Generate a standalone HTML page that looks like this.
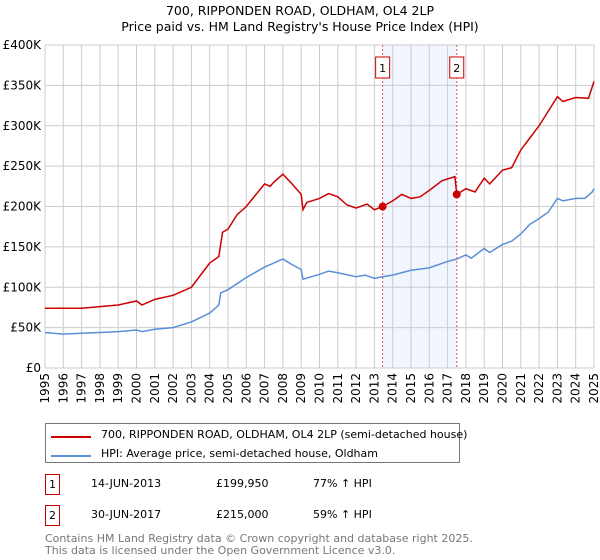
<!DOCTYPE html>
<html><head><meta charset="utf-8"><style>
body{margin:0;width:600px;height:560px;background:#fff;font-family:"DejaVu Sans","Liberation Sans",sans-serif;overflow:hidden;position:relative}
.t{position:absolute;white-space:nowrap;color:#000}
</style></head><body>
<div class="t" style="left:0;width:600px;text-align:center;top:3px;font-size:12.5px;line-height:16px">700, RIPPONDEN ROAD, OLDHAM, OL4 2LP<br>Price paid vs. HM Land Registry's House Price Index (HPI)</div>
<svg id="c" width="600" height="420" style="position:absolute;left:0;top:0" font-family="DejaVu Sans, Liberation Sans, sans-serif"></svg>
<div style="position:absolute;left:45px;top:423px;width:413px;height:38px;border:1px solid #777"></div>
<div style="position:absolute;left:51px;top:436px;width:40px;height:2px;background:#cc0000"></div>
<div class="t" style="left:101px;top:428px;font-size:11px">700, RIPPONDEN ROAD, OLDHAM, OL4 2LP (semi-detached house)</div>
<div style="position:absolute;left:51px;top:455px;width:40px;height:2px;background:#5b8fd6"></div>
<div class="t" style="left:101px;top:447px;font-size:11px">HPI: Average price, semi-detached house, Oldham</div>
<div class="t" style="left:45px;top:474px;width:13px;height:19px;border:1px solid #cc0000;font-size:11px;text-align:center;line-height:19px">1</div>
<div class="t" style="left:91px;top:477px;font-size:11px">14-JUN-2013</div>
<div class="t" style="left:216px;top:477px;font-size:11px">£199,950</div>
<div class="t" style="left:313px;top:477px;font-size:11px">77% ↑ HPI</div>
<div class="t" style="left:45px;top:505px;width:13px;height:19px;border:1px solid #cc0000;font-size:11px;text-align:center;line-height:19px">2</div>
<div class="t" style="left:91px;top:508px;font-size:11px">30-JUN-2017</div>
<div class="t" style="left:216px;top:508px;font-size:11px">£215,000</div>
<div class="t" style="left:313px;top:508px;font-size:11px">59% ↑ HPI</div>
<div class="t" style="left:45px;top:533px;font-size:11px;line-height:12px;color:#777">Contains HM Land Registry data © Crown copyright and database right 2025.<br>This data is licensed under the Open Government Licence v3.0.</div>
<script>
const hpiX=[1995,1996,1997,1998,1999,2000,2000.3,2001,2002,2003,2004,2004.5,2004.6,2005,2006,2007,2007.5,2008,2008.5,2009,2009.1,2010,2010.5,2011,2012,2012.5,2013,2013.45,2014,2015,2016,2017,2017.5,2018,2018.3,2019,2019.3,2020,2020.5,2021,2021.5,2022,2022.5,2023,2023.3,2024,2024.5,2024.9,2025];
const hpiY=[44,42,43,44,45,47,45,48,50,57,68,78,93,97,112,125,130,135,128,122,110,116,120,118,113,115,111,113,115,121,124,132,135,140,136,148,143,153,157,166,178,185,193,210,207,210,210,218,222];
const redX=[1995,1997,1999,2000,2000.3,2001,2002,2003,2003.5,2004,2004.5,2004.7,2005,2005.5,2006,2007,2007.3,2007.5,2008,2008.5,2009,2009.1,2009.3,2010,2010.5,2011,2011.5,2012,2012.6,2013,2013.45,2014,2014.5,2015,2015.5,2016,2016.7,2017.4,2017.5,2018,2018.5,2019,2019.3,2020,2020.5,2021,2021.5,2022,2022.5,2023,2023.3,2024,2024.7,2025];
const redY=[74,74,78,83,78,85,90,100,115,130,138,168,172,190,200,228,225,230,240,228,215,196,205,210,216,212,202,198,203,196,200,207,215,210,212,220,232,237,215,222,218,235,228,245,248,270,285,300,318,336,330,335,334,355];
const saleX=[2013.45,2017.5];
const saleY=[199.95,215];
const yTicks=[0,50,100,150,200,250,300,350,400];
const yLabels=["£0","£50K","£100K","£150K","£200K","£250K","£300K","£350K","£400K"];
const years=[];for(let y=1995;y<=2025;y++)years.push(y);
const X0=45,X1=594,Y0=368,Y1=45;
const sx=v=>X0+(v-1995)/30*(X1-X0), sy=v=>Y0-v/400*(Y0-Y1);
const svg=document.getElementById('c'),NS='http://www.w3.org/2000/svg';
function mk(t,a,p){const e=document.createElementNS(NS,t);for(const k in a)e.setAttribute(k,a[k]);(p||svg).appendChild(e);return e;}
let e=mk('rect',{x:sx(saleX[0]),y:Y1,width:sx(saleX[1])-sx(saleX[0]),height:Y0-Y1,fill:'#eef3fd',opacity:0.8});


years.forEach(y=>{const l=mk('line',{x1:sx(y),x2:sx(y),y1:Y1,y2:Y0,stroke:'#ccc','stroke-width':1});


const t=mk('text',{x:0,y:0,'font-size':12,'text-anchor':'end',transform:`translate(${sx(y)+4},${Y0+5}) rotate(-90)`});t.textContent=y;

});
yTicks.forEach((v,i)=>{const l=mk('line',{x1:X0,x2:X1,y1:sy(v),y2:sy(v),stroke:'#ccc','stroke-width':1});


const t=mk('text',{x:X0-4,y:sy(v)+4,'font-size':12,'text-anchor':'end'});t.textContent=yLabels[i];

});
saleX.forEach((s,i)=>{const l=mk('line',{x1:sx(s),x2:sx(s),y1:Y1,y2:Y0,stroke:'#e55','stroke-width':1,'stroke-dasharray':'2,2'});


const r=mk('rect',{x:sx(s)-7,y:57,width:14,height:21,fill:'#fff',stroke:'#cc0000'});


const t=mk('text',{x:sx(s),y:72,'font-size':11,'text-anchor':'middle'});t.textContent=i+1;

});
function line(xs,ys,col,name){const p=mk('polyline',{points:xs.map((x,i)=>sx(x)+','+sy(ys[i])).join(' '),fill:'none',stroke:col,'stroke-width':1.5});

}
line(hpiX,hpiY,'#5b8fd6','hpi-line');
line(redX,redY,'#cc0000','property-line');
saleX.forEach((s,i)=>{const c=mk('circle',{cx:sx(s),cy:sy(saleY[i]),r:4,fill:'#cc0000'});

});
</script>
</body></html>
